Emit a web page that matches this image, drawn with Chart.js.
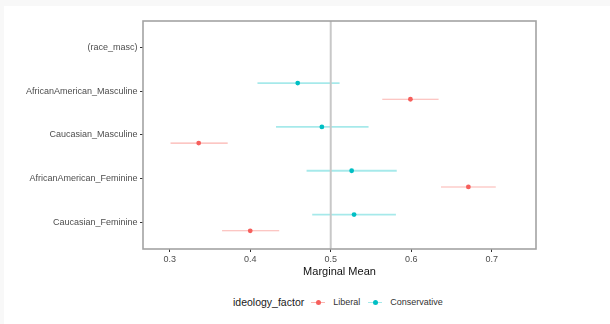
<!DOCTYPE html>
<html>
<head>
<meta charset="utf-8">
<script src="https://cdn.jsdelivr.net/npm/chart.js@4.4.0/dist/chart.umd.min.js"></script>
<style>
  html, body { margin: 0; padding: 0; background: #f8f8f8; width: 610px; height: 324px; overflow: hidden; }
  #frame { position: absolute; left: 4px; top: 6px; width: 606px; height: 318px; background: #ffffff; }
  #wrap { position: absolute; left: 0; top: 0; width: 606px; height: 274px; }
  #legend { position: absolute; left: 229px; top: 288px; height: 16px; display: flex; align-items: center;
            font-family: "Liberation Sans", Arial, sans-serif; color: #1a1a1a; }
  #legend .title { font-size: 10.5px; margin-right: 7px; }
  #legend .key { position: relative; width: 14px; height: 12px; margin-right: 8px; }
  #legend .key .ln { position: absolute; left: 0; right: 0; top: 5.5px; height: 1.5px; }
  #legend .key .dt { position: absolute; left: 4.5px; top: 3.5px; width: 5px; height: 5px; border-radius: 50%; }
  #legend .lab { font-size: 9px; color: #333; margin-right: 8px; }
</style>
</head>
<body>
<div id="frame">
  <div id="wrap"><canvas id="c"></canvas></div>
  <div id="legend"></div>
</div>
<script>
// ---- data ----
const categories = ['(race_masc)', 'AfricanAmerican_Masculine', 'Caucasian_Masculine', 'AfricanAmerican_Feminine', 'Caucasian_Feminine'];
const seriesNames = ['Liberal', 'Conservative'];
const liberalMean = [null, 0.599, 0.336, 0.671, 0.400];
const liberalLow  = [null, 0.564, 0.301, 0.637, 0.365];
const liberalHigh = [null, 0.634, 0.372, 0.705, 0.436];
const conservativeMean = [null, 0.459, 0.489, 0.526, 0.529];
const conservativeLow  = [null, 0.409, 0.432, 0.470, 0.477];
const conservativeHigh = [null, 0.511, 0.547, 0.582, 0.581];
const xTickValues = [0.3, 0.4, 0.5, 0.6, 0.7];
const xTickLabels = ['0.3', '0.4', '0.5', '0.6', '0.7'];
const referenceValue = 0.5;
const axisTitle = 'Marginal Mean';
const legendTitle = 'ideology_factor';

// ---- styles ----
const FONT = '"Liberation Sans", Arial, sans-serif';
const libColor = '#f65f5c', libLine = 'rgba(248,118,109,0.55)';
const conColor = '#00bfc4', conLine = 'rgba(0,191,196,0.35)';
const dodge = 0.185;
const nCat = categories.length;
const catY = i => nCat - i;

const datasets = [];
function addSeries(mean, lo, hi, off, dotColor, lineColor, lw) {
  mean.forEach((m, i) => {
    if (m === null) return;
    datasets.push({
      type: 'line', data: [{x: lo[i], y: catY(i) + off}, {x: hi[i], y: catY(i) + off}],
      borderColor: lineColor, borderWidth: lw, pointRadius: 0, order: 3
    });
  });
  datasets.push({
    type: 'scatter',
    data: mean.map((m, i) => m === null ? null : {x: m, y: catY(i) + off}).filter(p => p),
    backgroundColor: dotColor, borderWidth: 0, pointRadius: 2.4, order: 1
  });
}
addSeries(liberalMean, liberalLow, liberalHigh, -dodge, libColor, libLine, 1.1);
addSeries(conservativeMean, conservativeLow, conservativeHigh, dodge, conColor, conLine, 1.8);
datasets.push({
  type: 'line', data: [{x: referenceValue, y: 0.4}, {x: referenceValue, y: 5.6}],
  borderColor: '#c8c8c8', borderWidth: 2, pointRadius: 0, order: 2
});

const panelBorder = {
  id: 'panelBorder',
  afterDatasetsDraw(chart) {
    const {ctx, chartArea: a} = chart;
    ctx.save();
    ctx.strokeStyle = '#a3a3a3';
    ctx.lineWidth = 1.6;
    ctx.strokeRect(a.left, a.top, a.right - a.left, a.bottom - a.top);
    ctx.restore();
  }
};

new Chart(document.getElementById('c'), {
  type: 'scatter',
  data: { datasets },
  options: {
    responsive: true, maintainAspectRatio: false, animation: false,
    layout: { padding: { left: 0, right: 74, top: 15, bottom: 0 } },
    plugins: { legend: { display: false }, tooltip: { enabled: false } },
    scales: {
      x: {
        type: 'linear', min: 0.2668, max: 0.755,
        afterBuildTicks: s => { s.ticks = xTickValues.map(v => ({value: v})); },
        afterFit: s => { s.height = 31; },
        ticks: { callback: (v, i) => xTickLabels[i], color: '#4d4d4d', font: { family: FONT, size: 9 }, padding: 2.5, maxRotation: 0, autoSkip: false },
        grid: { display: true, drawOnChartArea: false, drawTicks: true, tickLength: 3, tickColor: '#333', tickWidth: 1 },
        border: { display: false },
        title: { display: true, text: axisTitle, color: '#111', font: { family: FONT, size: 11 }, padding: { top: 0, bottom: 1.5 } }
      },
      y: {
        type: 'linear', min: 0.4, max: 5.6,
        afterBuildTicks: s => { s.ticks = categories.map((c, i) => ({value: catY(i)})); },
        afterFit: s => { s.width = 139; },
        ticks: { callback: v => categories[nCat - v], color: '#4d4d4d', font: { family: FONT, size: 9 }, padding: 2.5, autoSkip: false },
        grid: { display: true, drawOnChartArea: false, drawTicks: true, tickLength: 3, tickColor: '#333', tickWidth: 1 },
        border: { display: false }
      }
    }
  },
  plugins: [panelBorder]
});

// ---- legend (HTML) ----
const lg = document.getElementById('legend');
const t = document.createElement('span'); t.className = 'title'; t.textContent = legendTitle; lg.appendChild(t);
[[seriesNames[0], libColor, libLine], [seriesNames[1], conColor, conLine]].forEach(([name, dc, lc]) => {
  const k = document.createElement('span'); k.className = 'key';
  k.innerHTML = '<span class="ln" style="background:' + lc + '"></span><span class="dt" style="background:' + dc + '"></span>';
  lg.appendChild(k);
  const l = document.createElement('span'); l.className = 'lab'; l.textContent = name; lg.appendChild(l);
});
</script>
</body>
</html>
